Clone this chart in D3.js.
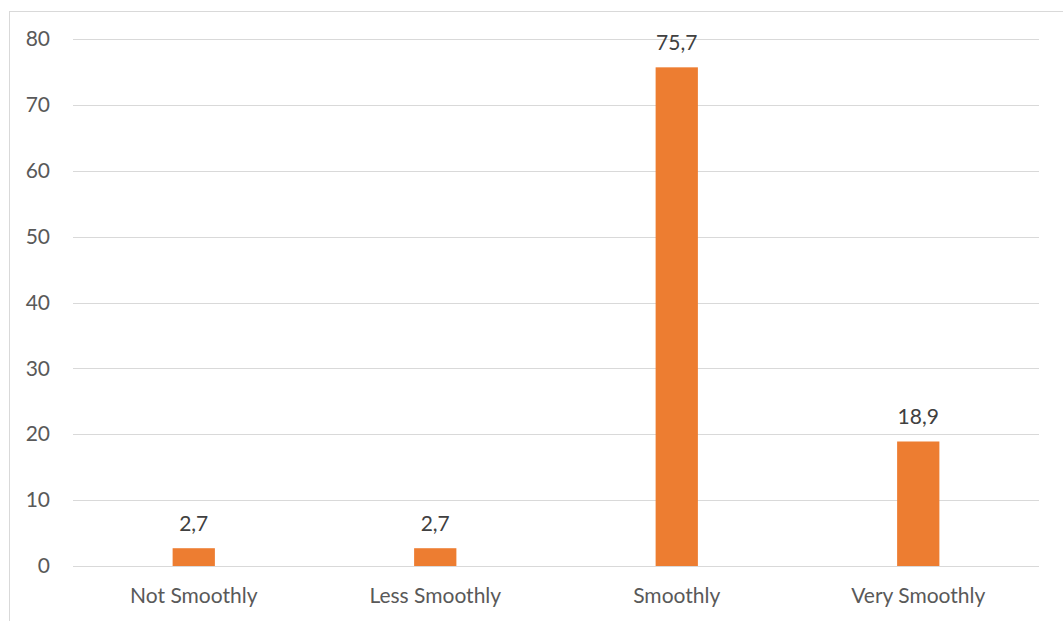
<!DOCTYPE html>
<html><head><meta charset="utf-8">
<script src="https://cdn.jsdelivr.net/npm/d3@7"></script>
<style>html,body{margin:0;padding:0;background:#fff;}</style>
</head><body>
<svg id="c" width="1063" height="621"></svg>
<script>
const categories = ["Not Smoothly", "Less Smoothly", "Smoothly", "Very Smoothly"];
const values = [2.7, 2.7, 75.7, 18.9];
const valueLabels = ["2,7", "2,7", "75,7", "18,9"];
const yTicks = [0, 10, 20, 30, 40, 50, 60, 70, 80];

const svg = d3.select("#c");
const font = "Lato, 'Open Sans', sans-serif";
const textColor = "#595959";
const fs = 21;

// outer frame
svg.append("rect").attr("x", 9.5).attr("y", 11.5).attr("width", 1080).attr("height", 640)
  .attr("fill", "none").attr("stroke", "#d9d9d9").attr("stroke-width", 1);

const x = d3.scaleBand().domain(categories).range([73, 1039]).paddingInner(0.825).paddingOuter(0.4125);
const y = d3.scaleLinear().domain([0, 80]).range([566, 39]);

const grid = svg.append("g");
grid.selectAll("line").data(yTicks).join("line")
  .attr("x1", 73).attr("x2", 1039)
  .attr("y1", d => Math.round(y(d)) + 0.5).attr("y2", d => Math.round(y(d)) + 0.5)
  .attr("stroke", "#d9d9d9").attr("stroke-width", 1);

const yAxis = svg.append("g").attr("transform", "translate(73,0)")
  .call(d3.axisLeft(y).tickValues(yTicks).tickSize(0).tickPadding(23));
yAxis.select(".domain").remove();
yAxis.selectAll("text").attr("font-family", font).attr("font-size", fs).attr("fill", textColor);

const xAxis = svg.append("g").attr("transform", "translate(0,566)")
  .call(d3.axisBottom(x).tickSize(0).tickPadding(22));
xAxis.select(".domain").remove();
xAxis.selectAll("text").attr("font-family", font).attr("font-size", fs).attr("fill", textColor);

svg.append("g").selectAll("rect").data(values).join("rect")
  .attr("x", (d, i) => x(categories[i]))
  .attr("width", x.bandwidth())
  .attr("y", d => y(d))
  .attr("height", d => y(0) - y(d))
  .attr("fill", "#ed7d31");

svg.append("g").selectAll("text").data(values).join("text")
  .attr("x", (d, i) => x(categories[i]) + x.bandwidth() / 2)
  .attr("y", d => y(d) - 17.5)
  .attr("text-anchor", "middle")
  .attr("font-family", font).attr("font-size", fs).attr("fill", "#404040")
  .text((d, i) => valueLabels[i]);
</script>
</body></html>
